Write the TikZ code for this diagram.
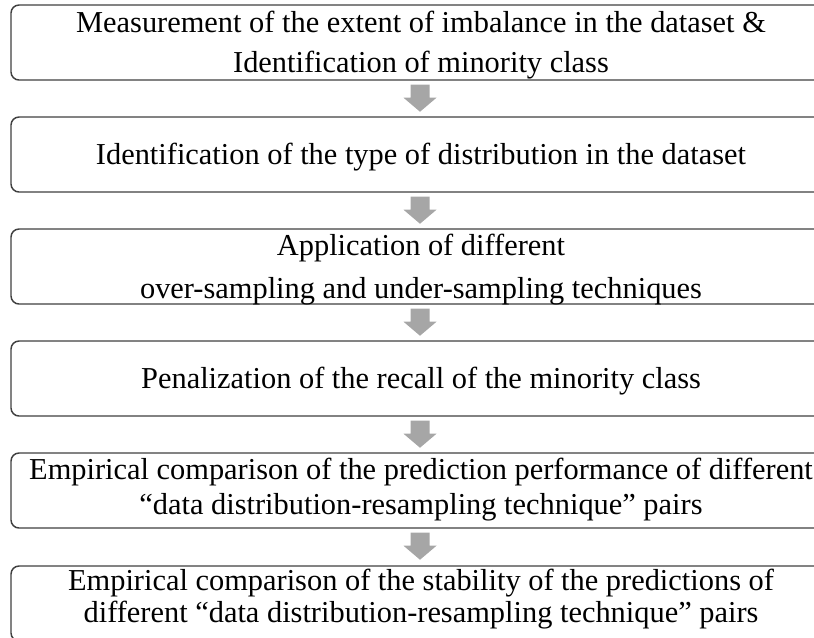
\documentclass[tikz,border=0pt]{standalone}
\usepackage{fontspec}
\setmainfont{Liberation Serif}
\usetikzlibrary{calc}
\tikzset{
  stepbox/.style={draw=black!75, line width=1.1pt, rounded corners=6pt, minimum width=613.5pt, minimum height=56.25pt, inner sep=0pt, fill=white},
  steptext/.style={anchor=base, align=center, inner sep=0pt, font=\fontsize{22.8pt}{26pt}\selectfont},
  arrowfill/.style={fill=black!35, draw=none}
}
\newcommand{\downarrowshape}[2]{%
  \fill[arrowfill] ([shift={(-9.5,4)}]#1.south) -- ([shift={(9.5,4)}]#1.south) -- ([shift={(9.5,17)}]#1.south) -- ([shift={(16.5,17)}]#1.south) -- ([shift={(0,31)}]#1.south) -- ([shift={(-16.5,17)}]#1.south) -- ([shift={(-9.5,17)}]#1.south) -- cycle;}
\begin{document}
\begin{tikzpicture}[x=0.75pt,y=-0.75pt]
\useasboundingbox (0,0) rectangle (814,637);
\node[stepbox] (b1) at (420,42.5) {};
\node[stepbox] (b2) at (420,154.5) {};
\node[stepbox] (b3) at (420,266.5) {};
\node[stepbox] (b4) at (420,378.5) {};
\node[stepbox] (b5) at (420,490.5) {};
\node[stepbox] (b6) at (420,603.5) {};
\node[steptext] (t1) at (421,72) {Measurement of the extent of imbalance in the dataset \&\\[4pt] Identification of minority class};
\node[steptext] (t2) at (421,164) {Identification of the type of distribution in the dataset};
\node[steptext] (t3) at (421,298) {Application of different\\[6pt] over-sampling and under-sampling techniques};
\node[steptext] (t4) at (421,388) {Penalization of the recall of the minority class};
\node[steptext] (t5) at (421,514) {Empirical comparison of the prediction performance of different\\[0pt] ``data distribution-resampling technique'' pairs};
\node[steptext] (t6) at (421,622) {Empirical comparison of the stability of the predictions of\\[-2pt] different ``data distribution-resampling technique'' pairs};
\downarrowshape{b1}{b2}
\downarrowshape{b2}{b3}
\downarrowshape{b3}{b4}
\downarrowshape{b4}{b5}
\downarrowshape{b5}{b6}
\end{tikzpicture}
\end{document}
